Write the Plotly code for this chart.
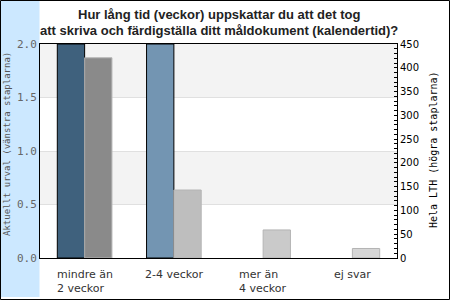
import plotly.graph_objects as go

categories = ["mindre än\n2 veckor", "2-4 veckor", "mer än\n4 veckor", "ej svar"]
urval_values = [2, 2, 0, 0]          # left axis
lth_values = [421, 143, 59, 20]      # right axis
urval_colors = ["#3f617d", "#7395b2", "#a9c0d3", "#c9d8e4"]
lth_colors = ["#8a8a8a", "#bebebe", "#cacaca", "#d6d6d6"]
left_ticks = [0.0, 0.5, 1.0, 1.5, 2.0]
right_ticks = [0, 50, 100, 150, 200, 250, 300, 350, 400, 450]
title_lines = ["Hur lång tid (veckor) uppskattar du att det tog",
               "att skriva och färdigställa ditt måldokument (kalendertid)?"]
left_title = "Aktuellt urval (vänstra staplarna)"
right_title = "Hela LTH (högra staplarna)"

W, H = 450, 300
ML, MR, MT, MB = 40, 53, 44, 42
PW, PH = W - ML - MR, H - MT - MB

def px_x(p):
    return (p - ML) / PW

def px_y(p):
    return (H - MB - p) / PH

bw = 0.306
fig = go.Figure()
fig.add_trace(go.Bar(
    x=categories, y=urval_values, yaxis="y", width=bw, offset=-bw,
    marker=dict(color=urval_colors,
                line=dict(color="#000000", width=[1 if v > 0 else 0 for v in urval_values])),
    name=left_title))
fig.add_trace(go.Bar(
    x=categories, y=lth_values, yaxis="y2", width=bw, offset=0,
    marker=dict(color=lth_colors,
                line=dict(color="#b4b4b4", width=[1 if v > 0 else 0 for v in lth_values])),
    name=right_title))

shapes = []
# alternating bands
for i in range(len(left_ticks) - 1):
    if i % 2 == 1:
        shapes.append(dict(type="rect", xref="paper", yref="y", x0=0, x1=1,
                           y0=left_ticks[i], y1=left_ticks[i + 1],
                           fillcolor="#f3f3f3", line=dict(width=0), layer="below"))
# left blue band
shapes.append(dict(type="rect", xref="paper", yref="paper",
                   x0=px_x(1), x1=px_x(39.5), y0=px_y(297), y1=px_y(1),
                   fillcolor="#cce8ff", line=dict(width=0), layer="below"))
# outer border
shapes.append(dict(type="rect", xref="paper", yref="paper",
                   x0=px_x(0.5), x1=px_x(449.5), y0=px_y(299.5), y1=px_y(0.5),
                   fillcolor="rgba(0,0,0,0)", line=dict(color="#000000", width=1),
                   layer="above"))

annotations = []
for c in categories:
    annotations.append(dict(x=c, xref="x", y=0, yref="paper", yanchor="top",
                            xanchor="center", align="left", yshift=-8,
                            text=c.replace("\n", "<br>"), showarrow=False,
                            font=dict(family="DejaVu Sans", size=11, color="#333333")))
for i, t in enumerate(title_lines):
    annotations.append(dict(x=0.5, xref="paper", xanchor="center",
                            y=px_y(14 + 17 * i), yref="paper", yanchor="middle",
                            text="<b>" + t + "</b>", showarrow=False,
                            font=dict(family="Liberation Sans", size=13, color="#222222")))
annotations.append(dict(x=px_x(7), xref="paper", xanchor="center",
                        y=px_y(144), yref="paper", yanchor="middle",
                        text=left_title, textangle=-90, showarrow=False,
                        font=dict(family="DejaVu Sans Mono", size=9, color="#555555")))
annotations.append(dict(x=px_x(433), xref="paper", xanchor="center",
                        y=px_y(150), yref="paper", yanchor="middle",
                        text=right_title, textangle=-90, showarrow=False,
                        font=dict(family="DejaVu Sans Mono", size=10, color="#000000")))

fig.update_layout(
    width=W, height=H, margin=dict(l=ML, r=MR, t=MT, b=MB),
    paper_bgcolor="#ffffff", plot_bgcolor="rgba(0,0,0,0)",
    showlegend=False, barmode="overlay",
    shapes=shapes, annotations=annotations,
    xaxis=dict(type="category", showticklabels=False, ticks="", showgrid=False,
               showline=True, linecolor="#000000", linewidth=1, mirror=True,
               zeroline=False, range=[-0.5, 3.5]),
    yaxis=dict(range=[0, 2], tickvals=left_ticks, tickformat=".1f",
               showgrid=True, gridcolor="#e0e0e0", gridwidth=1, zeroline=False,
               showline=True, linecolor="#000000", linewidth=1, ticks="",
               tickfont=dict(family="DejaVu Sans Mono", size=11, color="#666666")),
    yaxis2=dict(range=[0, 450], tickvals=right_ticks, overlaying="y", side="right",
                showgrid=False, zeroline=False, showline=True, linecolor="#000000",
                ticks="inside", ticklen=3, tickcolor="#000000",
                minor=dict(dtick=10, ticks="inside", ticklen=3, tickcolor="#000000"),
                tickfont=dict(family="DejaVu Sans", size=10, color="#000000")),
)

fig.write_html("out.html")
